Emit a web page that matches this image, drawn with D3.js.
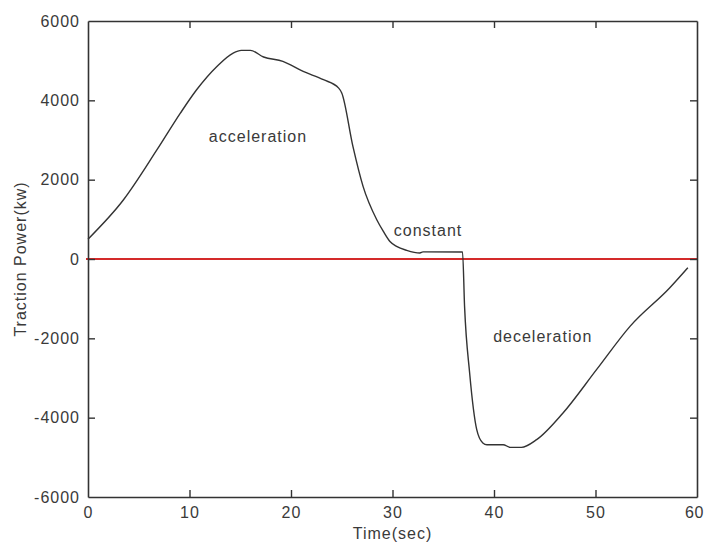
<!DOCTYPE html>
<html>
<head>
<meta charset="utf-8">
<script src="https://cdn.jsdelivr.net/npm/d3@7"></script>
<style>
  html, body { margin: 0; padding: 0; background: #fff; }
  text { font-family: "Liberation Sans", Arial, sans-serif; fill: #3a3a3a; }
</style>
</head>
<body>
<svg id="chart" width="705" height="544"></svg>
<script>
const timeSec = [0, 3.5, 6.8, 9.1, 10.7, 12.7, 14.3, 15.1, 16.0, 17.3, 19.2, 21.2, 23.2, 24.7, 25.0, 26.1, 27.1, 28.45, 29.1, 29.75, 30.4, 31.4, 32.7, 33.0, 36.9, 37.1, 37.6, 38.3, 38.9, 39.3, 40.9, 41.6, 42.7, 44.2, 46.8, 50.1, 53.4, 57.3, 59.1];
const powerKw = [500, 1494, 2755, 3678, 4267, 4855, 5193, 5260, 5260, 5093, 4983, 4730, 4520, 4308, 4183, 2838, 1830, 990, 696, 443, 318, 217, 151, 180, 176, -1195, -2873, -4303, -4638, -4681, -4681, -4748, -4748, -4555, -3882, -2790, -1698, -731, -220];
const xTicks = [0, 10, 20, 30, 40, 50, 60];
const yTicks = [-6000, -4000, -2000, 0, 2000, 4000, 6000];
const annotations = [
  { label: "acceleration", t: 16.75, v: 3083 },
  { label: "constant", t: 33.5, v: 713 },
  { label: "deceleration", t: 44.8, v: -1960 }
];
const xTitle = "Time(sec)";
const yTitle = "Traction Power(kw)";

(function () {
const svg = d3.select("#chart");
const mLeft = 88, mRight = 697, mTop = 21, mBottom = 497;
const x = d3.scaleLinear().domain([0, 60]).range([mLeft, mRight]);
const y = d3.scaleLinear().domain([-6000, 6000]).range([mBottom, mTop]);
const axisColor = "#333";
const fontStyle = s => s.attr("font-size", 16).attr("letter-spacing", 1);
const plainFmt = d => String(d);

// Zero line (red)
svg.append("line")
  .attr("x1", mLeft - 2).attr("x2", mRight)
  .attr("y1", y(0)).attr("y2", y(0))
  .attr("stroke", "#d42a2a").attr("stroke-width", 2);

// Curve
svg.append("path")
  .datum(timeSec.map((t, i) => [t, powerKw[i]]))
  .attr("fill", "none")
  .attr("stroke", "#333")
  .attr("stroke-width", 1.4)
  .attr("stroke-linejoin", "round")
  .attr("d", d3.line().x(d => x(d[0])).y(d => y(d[1])).curve(d3.curveMonotoneX));

// Axes (ticks inside, mirrored)
const tickLen = 7;
const bottomAxis = svg.append("g").attr("transform", `translate(0,${mBottom})`)
  .call(d3.axisBottom(x).tickValues(xTicks).tickFormat(plainFmt).tickSizeInner(-tickLen).tickSizeOuter(0).tickPadding(10));
const topAxis = svg.append("g").attr("transform", `translate(0,${mTop})`)
  .call(d3.axisTop(x).tickValues(xTicks).tickSizeInner(-tickLen).tickSizeOuter(0).tickFormat(""));
const leftAxis = svg.append("g").attr("transform", `translate(${mLeft},0)`)
  .call(d3.axisLeft(y).tickValues(yTicks).tickFormat(plainFmt).tickSizeInner(-tickLen).tickSizeOuter(0).tickPadding(8));
const rightAxis = svg.append("g").attr("transform", `translate(${mRight},0)`)
  .call(d3.axisRight(y).tickValues(yTicks).tickSizeInner(-tickLen).tickSizeOuter(0).tickFormat(""));

[bottomAxis, topAxis, leftAxis, rightAxis].forEach(g => {
  g.attr("font-family", null).attr("font-size", null);
  g.select(".domain").attr("stroke", axisColor).attr("stroke-width", 1.6);
  g.selectAll(".tick line").attr("stroke", axisColor).attr("stroke-width", 1.4);
  g.selectAll(".tick text").attr("fill", null).call(fontStyle);
});
[bottomAxis, topAxis].forEach(g => g.selectAll(".tick").filter(d => d === 0 || d === 60).select("line").remove());
[leftAxis, rightAxis].forEach(g => g.selectAll(".tick").filter(d => d === 6000 || d === -6000).select("line").remove());
// keep the last x label inside the frame
bottomAxis.selectAll(".tick").filter(d => d === 60).select("text").attr("dx", -3).attr("letter-spacing", 0.5);

// Annotations
svg.selectAll("text.note").data(annotations).enter().append("text")
  .attr("class", "note")
  .attr("x", d => x(d.t)).attr("y", d => y(d.v))
  .attr("text-anchor", "middle").attr("dominant-baseline", "central")
  .call(fontStyle)
  .text(d => d.label);

// Axis titles
svg.append("text")
  .attr("x", (mLeft + mRight) / 2).attr("y", 539)
  .attr("text-anchor", "middle")
  .call(fontStyle)
  .text(xTitle);
svg.append("text")
  .attr("transform", `translate(26,${(mTop + mBottom) / 2}) rotate(-90)`)
  .attr("text-anchor", "middle")
  .call(fontStyle)
  .text(yTitle);
})();
</script>
</body>
</html>
